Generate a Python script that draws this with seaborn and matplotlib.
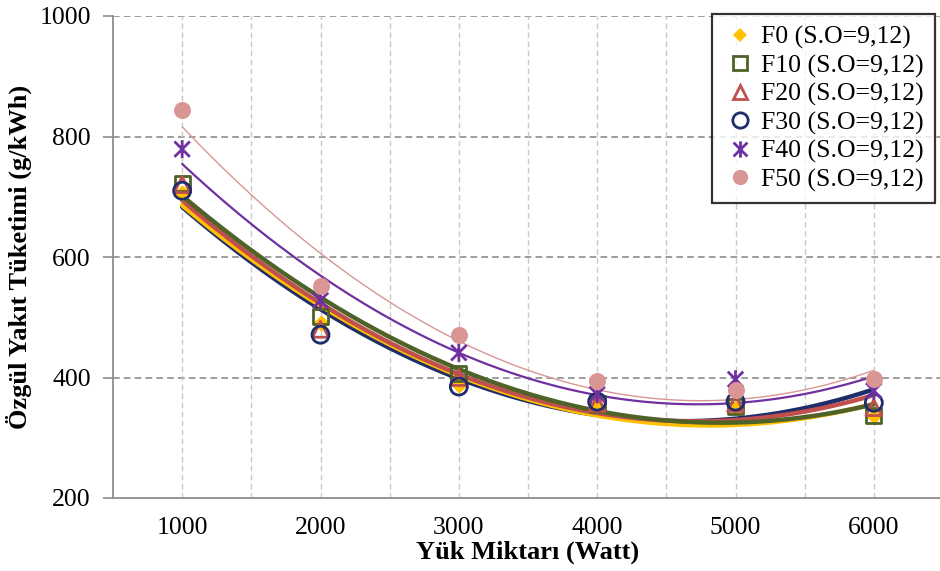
import numpy as np
import pandas as pd
import matplotlib
matplotlib.use("Agg")
import matplotlib.pyplot as plt
import seaborn as sns
from matplotlib.lines import Line2D
from matplotlib.path import Path

# Load levels (W) and specific fuel consumption (g/kWh) for each blend
load = [1000, 2000, 3000, 4000, 5000, 6000]
f0 = [706, 490, 388, 352, 350, 336]
f10 = [722, 501, 406, 356, 352, 337]
f20 = [720, 480, 400, 357, 357, 350]
f30 = [710, 471, 385, 360, 360, 358]
f40 = [779, 528, 441, 372, 397, 378]
f50 = [844, 552, 471, 395, 379, 397]

labels = ["F0 (S.O=9,12)", "F10 (S.O=9,12)", "F20 (S.O=9,12)",
          "F30 (S.O=9,12)", "F40 (S.O=9,12)", "F50 (S.O=9,12)"]
series = [f0, f10, f20, f30, f40, f50]

# Asterisk marker: a vertical stroke crossed by an X
star = Path([(0, -1), (0, 1), (-0.85, -0.85), (0.85, 0.85), (-0.85, 0.85), (0.85, -0.85)],
            [Path.MOVETO, Path.LINETO, Path.MOVETO, Path.LINETO, Path.MOVETO, Path.LINETO])

colors = ["#FFC000", "#4F6228", "#C0504D", "#1F2D6B", "#7030A0", "#D99694"]
markers = ["D", "s", "^", "o", star, "o"]
filled = [True, False, False, False, False, True]
msizes = [70, 120, 130, 150, 170, 150]
trend_lw = [3.2, 3.2, 3.2, 3.2, 1.6, 1.0]

sns.set_theme(style="white")
plt.rcParams["font.family"] = ["Liberation Serif", "DejaVu Serif"]
plt.rcParams["text.color"] = "black"
plt.rcParams["axes.labelcolor"] = "black"

fig = plt.figure(figsize=(9.4, 5.71), dpi=100)
ax = fig.add_axes([113 / 940, 73 / 571, 830 / 940, 482 / 571])

# Second-order polynomial trend lines fitted to each series
xs = np.linspace(1000, 6000, 200)
trend_order = [3, 0, 2, 1, 4, 5]
for i in trend_order:
    coef = np.polyfit(load, series[i], 2)
    tdf = pd.DataFrame({"x": xs, "y": np.polyval(coef, xs)})
    sns.lineplot(data=tdf, x="x", y="y", ax=ax, color=colors[i],
                 linewidth=trend_lw[i], zorder=2, legend=False)

# Measured points
for i, (vals, lab) in enumerate(zip(series, labels)):
    df = pd.DataFrame({"x": load, "y": vals})
    if filled[i]:
        sns.scatterplot(data=df, x="x", y="y", ax=ax, marker=markers[i],
                        s=msizes[i], color=colors[i], edgecolor=colors[i],
                        linewidth=0, zorder=3, legend=False)
    else:
        sns.scatterplot(data=df, x="x", y="y", ax=ax, marker=markers[i],
                        s=msizes[i], facecolors="none", edgecolor=colors[i],
                        color=colors[i], linewidth=2, zorder=3, legend=False)

ax.set_xlim(500, 6500)
ax.set_ylim(200, 1000)
ax.set_xticks([1000, 2000, 3000, 4000, 5000, 6000])
ax.set_yticks([200, 400, 600, 800, 1000])

# Grid: darker horizontal, lighter vertical dashed lines
ax.grid(False)
for yv in [400, 600, 800, 1000]:
    ax.axhline(yv, color="#8C8C8C", linestyle=(0, (4, 2.5)), linewidth=1.2, zorder=1)
for xv in np.arange(1000, 6501, 500):
    ax.axvline(xv, color="#C8C8C8", linestyle=(0, (4, 2.5)), linewidth=1.0, zorder=1)

for side in ["top", "right"]:
    ax.spines[side].set_visible(False)
for side in ["left", "bottom"]:
    ax.spines[side].set_color("#8C8C8C")
    ax.spines[side].set_linewidth(1.3)

ax.tick_params(axis="y", which="major", direction="out", length=7, width=1.2,
               color="#8C8C8C", labelcolor="black", labelsize=18.5, pad=9, left=True)
ax.tick_params(axis="x", which="both", length=0, labelcolor="black", labelsize=18.5, pad=14)

ax.set_xlabel("Yük Miktarı (Watt)", fontsize=19, fontweight="bold", labelpad=1)
ax.set_ylabel("Özgül Yakıt Tüketimi (g/kWh)", fontsize=19, fontweight="bold", labelpad=5)

handles = []
for i in range(6):
    ms = np.sqrt(msizes[i]) * 0.9
    if filled[i]:
        h = Line2D([], [], linestyle="none", marker=markers[i], markersize=ms,
                   markerfacecolor=colors[i], markeredgecolor=colors[i], markeredgewidth=0)
    else:
        h = Line2D([], [], linestyle="none", marker=markers[i], markersize=ms,
                   markerfacecolor="none", markeredgecolor=colors[i], markeredgewidth=2)
    handles.append(h)

leg = ax.legend(handles, labels, loc="upper right", bbox_to_anchor=(935 / 940, 1 - 14 / 571),
                bbox_transform=fig.transFigure, fontsize=18.5, frameon=True, fancybox=False,
                handletextpad=0.15, handlelength=1.3, borderpad=0.45, labelspacing=0.2,
                borderaxespad=0)
leg.get_frame().set_edgecolor("black")
leg.get_frame().set_linewidth(1.6)
leg.set_zorder(5)

fig.savefig("out.png", dpi=100)
